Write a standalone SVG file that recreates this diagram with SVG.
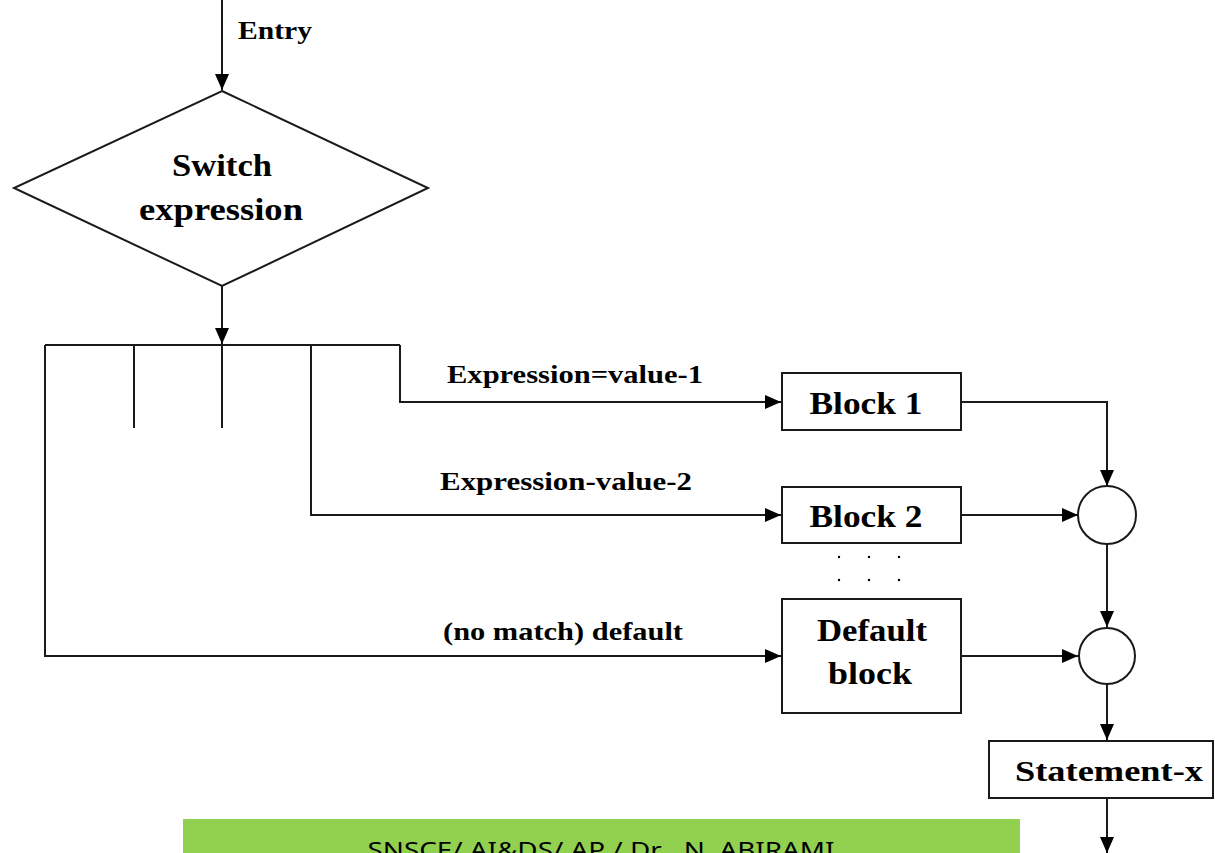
<svg xmlns="http://www.w3.org/2000/svg" width="1215" height="853" viewBox="0 0 1215 853">
<style>
.ln{fill:none;stroke:#1a1a1a;stroke-width:2}
.nd{fill:#fff;stroke:#1a1a1a;stroke-width:2}
.t{font-family:"Liberation Serif",serif;font-weight:bold;fill:#000}
.lbl{font-size:26px}
.big{font-size:31px}
</style>
<defs>
<marker id="ah" markerUnits="userSpaceOnUse" markerWidth="18" markerHeight="16" refX="16" refY="7" orient="auto">
<path d="M0,0 L16,7 L0,14 Z" fill="#000"/>
</marker>
</defs>
<rect width="1215" height="853" fill="#fff"/>
<g id="connectors">
<path class="ln" d="M222,0 V90" marker-end="url(#ah)"/>
<path class="ln" d="M222,286 V344" marker-end="url(#ah)"/>
<path class="ln" d="M45,345 H400"/>
<path class="ln" d="M134,345 V428"/>
<path class="ln" d="M222,345 V428"/>
<path class="ln" d="M400,345 V402 H781" marker-end="url(#ah)"/>
<path class="ln" d="M311,345 V515 H781" marker-end="url(#ah)"/>
<path class="ln" d="M45,345 V656 H781" marker-end="url(#ah)"/>
<path class="ln" d="M961,402 H1107 V486" marker-end="url(#ah)"/>
<path class="ln" d="M961,515 H1078" marker-end="url(#ah)"/>
<path class="ln" d="M1107,543 V627" marker-end="url(#ah)"/>
<path class="ln" d="M961,656 H1078" marker-end="url(#ah)"/>
<path class="ln" d="M1107,684 V740" marker-end="url(#ah)"/>
<path class="ln" d="M1107,798 V853" marker-end="url(#ah)"/>
<text class="t" x="238" y="39" font-size="25" textLength="74" lengthAdjust="spacingAndGlyphs">Entry</text>
<text class="t lbl" x="447" y="383" textLength="256" lengthAdjust="spacingAndGlyphs">Expression=value-1</text>
<text class="t lbl" x="440" y="490" textLength="252" lengthAdjust="spacingAndGlyphs">Expression-value-2</text>
<text class="t lbl" x="443" y="640" textLength="240" lengthAdjust="spacingAndGlyphs">(no match) default</text>
</g>
<g id="switch">
<polygon class="nd" points="222,91 428,188 222,286 14,188"/>
<text class="t big" x="222" y="176" text-anchor="middle" textLength="100" lengthAdjust="spacingAndGlyphs">Switch</text>
<text class="t big" x="221" y="220" text-anchor="middle" textLength="164" lengthAdjust="spacingAndGlyphs">expression</text>
</g>
<g id="block1">
<rect class="nd" x="782" y="373" width="179" height="57"/>
<text class="t big" x="866" y="414" text-anchor="middle" textLength="113" lengthAdjust="spacingAndGlyphs">Block 1</text>
</g>
<g id="block2">
<rect class="nd" x="782" y="487" width="179" height="56"/>
<text class="t big" x="866" y="527" text-anchor="middle" textLength="113" lengthAdjust="spacingAndGlyphs">Block 2</text>
</g>
<g id="dots" fill="#000">
<circle cx="839" cy="557" r="1.2"/><circle cx="869" cy="557" r="1.2"/><circle cx="899" cy="557" r="1.2"/>
<circle cx="839" cy="580" r="1.2"/><circle cx="869" cy="580" r="1.2"/><circle cx="899" cy="580" r="1.2"/>
</g>
<g id="default">
<rect class="nd" x="782" y="599" width="179" height="114"/>
<text class="t big" x="872" y="641" text-anchor="middle" textLength="110" lengthAdjust="spacingAndGlyphs">Default</text>
<text class="t big" x="870" y="684" text-anchor="middle" textLength="84" lengthAdjust="spacingAndGlyphs">block</text>
</g>
<g id="join1"><circle class="nd" cx="1107" cy="515" r="29"/></g>
<g id="join2"><circle class="nd" cx="1107" cy="656" r="28"/></g>
<g id="statement">
<rect class="nd" x="989" y="741" width="224" height="57"/>
<text class="t" x="1109" y="781" font-size="29" text-anchor="middle" textLength="188" lengthAdjust="spacingAndGlyphs">Statement-x</text>
</g>
<g id="footer">
<rect x="183" y="819" width="837" height="34" fill="#92D050"/>
<text x="601" y="858" font-family="'Noto Sans',sans-serif" font-size="22" fill="#000" text-anchor="middle" textLength="467" lengthAdjust="spacingAndGlyphs">SNSCE/ AI&amp;DS/ AP / Dr . N. ABIRAMI</text>
</g>
</svg>
